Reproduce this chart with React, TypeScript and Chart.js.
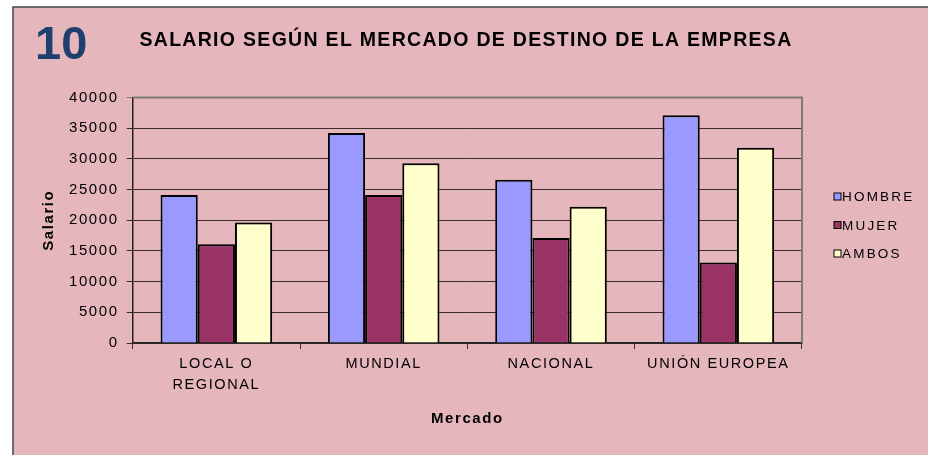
import React, { useEffect, useRef } from "react";
import { Chart, registerables } from "chart.js";

Chart.register(...registerables);

const categories: (string | string[])[] = [["LOCAL O", "REGIONAL"], "MUNDIAL", "NACIONAL", "UNIÓN EUROPEA"];
const hombre = [24100, 34200, 26600, 37100];
const mujer = [16100, 24100, 17100, 13100];
const ambos = [19650, 29300, 22200, 31800];
const seriesNames = ["HOMBRE", "MUJER", "AMBOS"];
const seriesColors = ["#9999ff", "#993366", "#ffffcc"];
const yMin = 0;
const yMax = 40000;
const yStep = 5000;
const chartNumber = "10";
const chartTitle = "SALARIO SEGÚN EL MERCADO DE DESTINO DE LA EMPRESA";
const xTitle = "Mercado";
const yTitle = "Salario";

const FONT = "'Liberation Sans', Arial, sans-serif";

const decorPlugin = {
  id: "decor",
  beforeDraw(chart: any) {
    const ctx = chart.ctx as CanvasRenderingContext2D;
    const w = chart.width;
    const h = chart.height;
    ctx.save();
    ctx.fillStyle = "#ffffff";
    ctx.fillRect(0, 0, w, h);
    ctx.fillStyle = "#e6b6bd";
    ctx.fillRect(13, 7, w - 13, h - 7);
    ctx.strokeStyle = "#444444";
    ctx.lineWidth = 1.5;
    ctx.beginPath();
    ctx.moveTo(13, h);
    ctx.lineTo(13, 7);
    ctx.lineTo(w, 7);
    ctx.stroke();
    ctx.restore();
    (ctx as any).letterSpacing = "1.6px";
  },
  afterDraw(chart: any) {
    const ctx = chart.ctx as CanvasRenderingContext2D;
    const area = chart.chartArea;
    ctx.save();
    ctx.strokeStyle = "#7a7a7a";
    ctx.lineWidth = 2;
    ctx.beginPath();
    ctx.moveTo(area.left, area.top);
    ctx.lineTo(area.right, area.top);
    ctx.lineTo(area.right, area.bottom);
    ctx.stroke();

    (ctx as any).letterSpacing = "0px";
    ctx.fillStyle = "#1f3f6e";
    ctx.font = `bold 47px ${FONT}`;
    ctx.textAlign = "left";
    ctx.textBaseline = "middle";
    ctx.fillText(chartNumber, 35, 46);

    (ctx as any).letterSpacing = "1.3px";
    ctx.fillStyle = "#000000";
    ctx.font = `bold 19.5px ${FONT}`;
    ctx.textAlign = "center";
    ctx.fillText(chartTitle, 466, 41);

    (ctx as any).letterSpacing = "2.2px";
    ctx.font = `13.5px ${FONT}`;
    ctx.textAlign = "left";
    const rows = [197, 225.5, 254];
    chart.data.datasets.forEach((ds: any, i: number) => {
      const y = rows[i];
      ctx.fillStyle = ds.backgroundColor;
      ctx.fillRect(834, y - 4, 7, 7);
      ctx.strokeStyle = "#000000";
      ctx.lineWidth = 1;
      ctx.strokeRect(834, y - 4, 7, 7);
      ctx.fillStyle = "#000000";
      ctx.fillText(ds.label, 842, y + 0.5);
    });
    ctx.restore();
    (ctx as any).letterSpacing = "0px";
  },
};

export default function App() {
  const ref = useRef<HTMLCanvasElement | null>(null);
  useEffect(() => {
    document.body.style.margin = "0";
    const canvas = ref.current!;
    const values = [hombre, mujer, ambos];
    const chart = new Chart(canvas, {
      type: "bar",
      data: {
        labels: categories as any,
        datasets: seriesNames.map((name, i) => ({
          label: name,
          data: values[i],
          backgroundColor: seriesColors[i],
          borderColor: "#000000",
          borderWidth: 2,
          categoryPercentage: 0.667,
          barPercentage: 1,
        })),
      },
      options: {
        animation: false,
        responsive: false,
        devicePixelRatio: 1,
        layout: { padding: { top: 97.5, right: 126, left: 0, bottom: 0 } },
        plugins: {
          legend: { display: false },
          title: { display: false },
          tooltip: { enabled: false },
        },
        scales: {
          x: {
            afterFit: (s: any) => {
              s.height = 112;
            },
            grid: {
              display: true,
              drawOnChartArea: false,
              drawTicks: true,
              tickLength: 6,
              color: "#333333",
              offset: true,
            },
            border: { display: true, color: "#222222", width: 1.5 },
            ticks: {
              color: "#000000",
              font: { family: FONT, size: 14.5, lineHeight: 1.42 },
              padding: 5,
              maxRotation: 0,
              autoSkip: false,
            },
            title: {
              display: true,
              text: xTitle,
              color: "#000000",
              font: { family: FONT, size: 15, weight: "bold", lineHeight: 1.2 },
              padding: { top: 0, bottom: 27 },
            },
          },
          y: {
            min: yMin,
            max: yMax,
            afterFit: (s: any) => {
              s.width = 132.7;
            },
            ticks: {
              stepSize: yStep,
              color: "#000000",
              font: { family: FONT, size: 15 },
              padding: 8,
              callback: (v: any) => String(v),
            },
            grid: {
              color: (c: any) => (c.tick && c.tick.value === yMax ? "#7a7a7a" : "#3a2c2c"),
              lineWidth: 1,
              tickLength: 6,
            },
            border: { display: true, color: "#222222", width: 1.5 },
            title: {
              display: true,
              text: yTitle,
              color: "#000000",
              font: { family: FONT, size: 15, weight: "bold", lineHeight: 1.2 },
              padding: { top: 39.5, bottom: 0 },
            },
          },
        },
      },
      plugins: [decorPlugin],
    });
    return () => chart.destroy();
  }, []);
  return (
    <div style={{ width: 928, height: 455 }}>
      <canvas ref={ref} width={928} height={455} style={{ display: "block", width: 928, height: 455 }} />
    </div>
  );
}
